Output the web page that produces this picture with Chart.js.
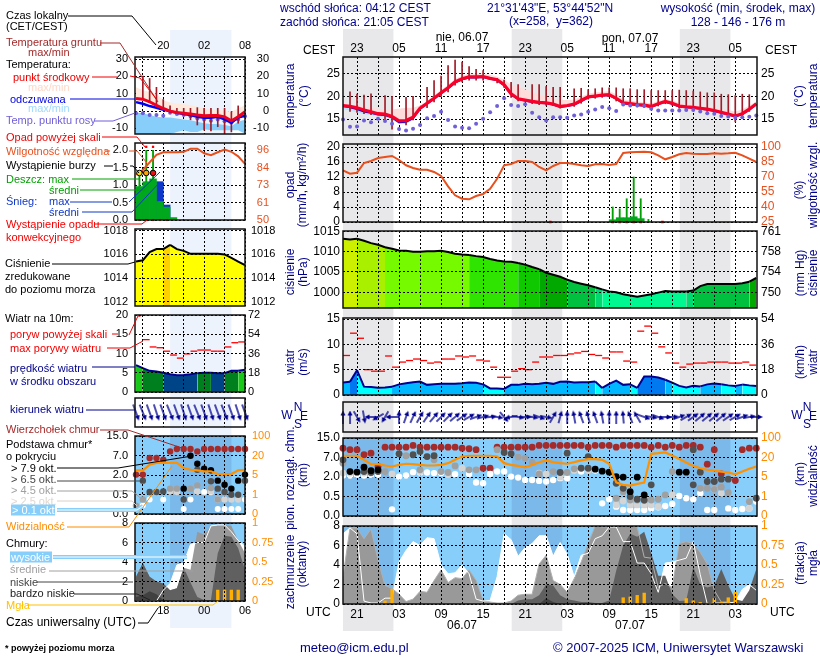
<!DOCTYPE html>
<html>
<head>
<meta charset="utf-8">
<title>meteogram</title>
<script src="https://cdn.jsdelivr.net/npm/chart.js@4"></script>
<style>
  html, body { margin: 0; padding: 0; background: #fff; }
  #page { position: relative; width: 820px; height: 660px; overflow: hidden; font-family: "Liberation Sans", Arial, sans-serif; }
  #page canvas { position: absolute; }
  .t { position: absolute; white-space: pre; line-height: 14px; font-size: 11px; transform: translateY(-50%); }
  .r { position: absolute; white-space: pre; line-height: 14px; font-size: 12px; color: #00008b; transform: translate(-50%,-50%) rotate(-90deg); }
  #leaders { position: absolute; left: 0; top: 0; }
</style>
</head>
<body>
<div id="page"></div>
<script>
// ---- main time axis: hour 0 = 19 UTC 05.07, one value per hour ----
const mainHours = [0,1,2,3,4,5,6,7,8,9,10,11,12,13,14,15,16,17,18,19,20,21,22,23,24,25,26,27,28,29,30,31,32,33,34,35,36,37,38,39,40,41,42,43,44,45,46,47,48,49,50,51,52,53,54,55,56,57,58,59];
const mainGridHours = [2,5,8,11,14,17,20,23,26,29,32,35,38,41,44,47,50,53,56];
const mainLabelHours = [2,8,14,20,26,32,38,44,50,56];
const cestLabels = ['23','05','11','17','23','05','11','17','23','05'];
const utcLabels = ['21','03','09','15','21','03','09','15','21','03'];
const nightsMain = [[0,7.2],[24.08,31.3],[48.08,55.3]];

const temp = [18,17.8,17.5,17,16.6,16.2,16.1,15.6,14.6,14.7,15.4,17.4,18.5,19.6,20.8,21.9,23.2,23.9,24.3,24.3,24.4,24,23.7,22.6,20.6,19.5,19.2,18.9,18.7,18.6,18.3,17.8,18,18.3,19.1,19.9,20.1,20.3,20.4,19.6,18.6,18.4,18.2,18.1,17.8,18.4,18.9,18.5,17.9,17.7,17.6,17.4,17.2,16.9,16.5,16.1,15.7,16.2,17.2,18.4];
const tempHigh = [18.3,18.2,18,17.8,17.6,17.3,17.2,17.2,17.3,17.5,17.5,18,19,20.2,21.4,22.6,23.9,24.5,25,25,25,24.8,24.4,23.7,22.6,22.2,21.6,21,20.5,20,19.6,19.3,19.2,19.3,20,20.6,20.9,21,21.2,20.5,19.4,19.1,18.9,18.7,18.5,19,19.4,19.1,18.6,18.3,18.2,18,17.9,17.6,17.3,17,16.6,17.2,18,18.9];
const tempLow = [17.7,17.5,17.2,16.7,16.3,15.9,15.8,15.2,14.3,14.3,15,17,18.1,19.2,20.4,21.5,22.8,23.5,23.9,24,24,23.7,23.3,22.2,20.2,19.2,18.9,18.6,18.4,18.3,18,17.5,17.7,18,18.7,19.5,19.7,19.9,20,19.2,18.3,18.1,17.9,17.8,17.5,18,18.5,18.1,17.6,17.4,17.3,17.1,16.9,16.6,16.2,15.8,15.4,15.9,16.9,18];
const feels = [17.9,17.6,17.2,16.7,16.4,16,15.9,15.4,14.3,14.4,15.2,17.3,18.4,19.5,20.7,21.8,23.1,23.8,24.2,24.2,24.3,23.9,23.6,22.5,20.5,19.4,19.1,18.8,18.6,18.5,18.2,17.7,17.9,18.2,19,19.8,20,20.2,20.3,19.5,18.5,18.3,18.1,18,17.7,18.3,18.8,18.4,17.8,17.6,17.5,17.3,17.1,16.8,16.4,16,15.6,16.1,17.1,18.3];
const feelsLow = [17.2,16.9,16.5,16.1,15.9,15.5,15.4,14.9,13.9,14,14.8,17,18.2,19.4,20.6,21.7,23,23.7,24.1,24.1,24.2,23.8,23.5,22.4,20.4,19.3,19,18.7,18.5,18.4,18.1,17.6,17.8,18.1,18.9,19.7,19.9,20.1,20.2,19.4,18.4,18.2,18,17.7,17.4,18.1,18.6,18.3,17.7,17.5,17.4,17.2,17,16.7,16.3,15.9,15.4,16,17,18.2];
const dewPoint = [14.9,13.3,13.4,14.7,14.3,15.1,14.6,14,12.8,12.5,12.9,13.7,15.2,15.7,16.6,14.8,13.4,13.1,13,14,15.1,16.5,17.9,19.6,18.1,17.9,18.3,16.4,15.4,14.7,15.4,15.4,15.3,15.8,16,16.6,17.1,17.7,17.4,16.8,18.2,18,18,17.9,17.3,16.9,16.9,16.9,16.9,17,17,16.7,16.3,16.2,15.7,15.6,15.3,15.4,15.5,15.8];
const groundHours = [1,2,3,4,6,7,9,10,12,13,14,15,16,17,18,19,20,22,23,24,25,27,28,29,30,31,33,34,35,36,37,38,39,40,41,42,43,44,45,46,47,48,49,50,51,52,53,54,55,56,57,58];
const groundMax = [21,20.5,20.3,20.6,20.2,20,19.8,20,22,23.5,24.5,26.8,28,27.6,26.6,26,25.7,24,23.6,23.1,22.6,22.6,22.6,22.2,22,22,21.7,21.8,21.5,21.7,21.9,21.9,21.9,21.7,21.7,21.5,21.5,21.3,21.3,21.3,21.3,21.4,21.3,21.2,21,20.8,20.8,20.5,20.4,20.2,20.5,20.4];
const groundMin = [16.7,16.5,16.2,16,14.8,12.8,13.7,14.8,17.5,18.8,20,21,22.5,23.2,23.6,23.6,23.6,23,22,19.8,19,18.4,18.2,18,18,17.4,17.8,18.5,19.4,19.6,19.8,19.9,19,18.1,17.9,17.7,17.6,17.3,17.9,18.4,18,17.4,17.2,17.1,16.9,16.7,16.4,16,15.4,14.4,15.7,16.7];

const humidity = [76.7,73.3,74.3,84,86,89,90,91,87,81.7,79,77.3,77.3,75,71,60.7,51.7,48.3,47.7,51,53,58.3,68.3,81.7,83,86,86,85,80,76.7,81,84,84,83,81.7,81,82.7,83,82,83,94,94.7,95,95.3,94.7,91.7,87.7,90,92.7,94,93.3,93,93,93.7,93.3,93.7,94.3,91.7,88.3,85];
const rainHours = [38.5,39.5,40.5,41.5,42.5];
const rainMean = [0.6,1.15,1.15,1.4,0.9];
const rainMaxHours = [38.5,39.5,40.5,41.5,42.5,43.6];
const rainMax = [4,3.5,6.2,12,6.2,0.7];
const convectiveHours = [29.6,38.5,39.5,40.5,41.5,42.5,45.6];

const pressure = [1013.2,1013,1013.2,1012.7,1012.1,1011.7,1011.1,1010.7,1010.3,1010.2,1010,1010,1010.1,1010.1,1010.2,1009.9,1009.5,1009.3,1009.2,1008.9,1008.7,1008.2,1007.8,1007.6,1007.5,1007.2,1006.8,1006.2,1005.7,1004.8,1004.3,1003.8,1003.1,1002.5,1002.1,1001.7,1001.2,1000.7,1000.2,1000,999.5,999.2,998.9,999.2,999.5,999.9,1000.3,1000.2,1000.2,1000.2,1000.4,1001.5,1002,1002,1002,1002,1002,1002.2,1002.6,1003.5];

const wind = [2.45,2.6,4.9,1.65,1.6,1.45,1.5,1.65,2.1,2.3,2.5,2.65,2,2.1,2.2,2.2,2.2,2.3,2.45,2.4,2.1,1.3,1.3,1.2,2,2,2.2,2.1,2.2,2.4,2.2,2.6,2.65,2.45,2.5,2.5,2.65,1.4,2.2,2.85,2,2.1,1.4,3.65,3.65,3.45,3,2.45,1.8,1.5,1.8,1.7,2.1,2.25,2.1,1.9,1.8,2.05,1.9,1.8];
const gustHours = [0.5,1.5,2.5,3.5,4.5,5.5,6.5,7.5,8.5,9.5,10.5,11.5,12.5,13.5,14.5,15.5,16.5,17.5,18.5,19.5,20.5,21.5,22.5,23.5,24.5,25.5,26.5,27.5,28.5,29.5,30.5,31.5,32.5,33.5,34.5,35.5,36.5,37.5,38.5,39.5,40.5,41.5,42.5,43.5,44.5,45.5,46.5,47.5,48.5,49.5,50.5,51.5,52.5,53.5,54.5,55.5,56.5,57.5,58.5];
const gusts = [7.8,12.2,11.2,5,4.7,4.7,7.7,5.5,6.5,6.8,7.1,6.8,6.3,6.5,7.1,7.1,7.7,7.5,7.7,6.9,6.7,5.5,3.5,3.5,4.7,5.2,5,6.5,7.5,7.5,7.8,7.8,8.1,8.3,8.6,8,7.8,7.3,8.5,8.5,6.7,6.5,12.6,13.6,12.2,9.5,8.3,6.3,5.5,6.1,6.3,6.3,6.5,6.5,6.5,6.3,6.3,6.5,5.9];
const windDir = [0,0,150,170,270,240,210,270,0,20,25,30,35,40,45,45,50,55,60,70,75,85,100,140,260,100,90,100,110,100,30,15,0,350,340,345,340,350,0,0,355,340,330,110,100,110,90,85,70,60,55,50,50,50,50,55,60,70,80,90];

// cloud dots: [hour, axis level], axis levels 0..4 stand for 0, 0.5, 2, 7, 15 km
const baseTop = [[0,3.48],[1,3.4],[2,3.4],[3,3.14],[4,3.22],[5,2.54],[6,3.53],[7,3.53],[8,3.53],[9,3.53],[10,3.62],[11,3.53],[12,3.53],[13,3.53],[14,3.53],[15,3.53],[16,3.53],[17,3.48],[18,3.45],[19,3.4],[20,2.45],[21,2.45],[22,3.53],[23,3.53],[24,3.53],[25,3.53],[26,3.53],[27,3.53],[28,3.62],[29,3.62],[30,3.62],[31,3.62],[32,3.62],[33,3.62],[34,3.62],[35,3.53],[36,3.62],[37,3.62],[38,3.62],[39,3.53],[40,3.62],[41,3.62],[42,3.62],[43,3.62],[44,3.53],[45,3.62],[46,3.53],[47,3.62],[48,3.53],[49,3.62],[50,3.62],[51,3.53],[52,2.66],[53,3.4],[54,2.16],[56,1.82],[57,3.4],[58,3.48],[59,3.48]];
const baseBlack = [[1,2.28],[2,2.25],[3,2.5],[4,2.32],[5,2.37],[36,2.4],[37,2.3],[38,2.25],[39,2.02],[40,1.99],[41,1.25],[42,1.99],[43,1.08],[48,2.25],[49,2.25]];
const baseDark = [[0,2.88],[3,2.28],[4,2.23],[5,2.28],[8,3.19],[10,3.14],[11,3.31],[12,3.05],[13,3.09],[23,3.26],[24,3.19],[31,2.23],[32,3.22],[34,2.45],[35,3.05],[35,2.45],[39,1.68],[40,1.42],[41,1],[42,0.86],[43,0.82],[44,1.6],[50,3.4],[50,1.6],[51,2.25],[52,1.77],[53,1.77],[54,1.89],[55,1.89],[59,0.91]];
const baseGrey = [[0,2.71],[6,2.28],[8,3.19],[9,3.09],[11,2.37],[12,3.05],[13,2.88],[14,2.28],[15,2.23],[16,2.57],[18,2.37],[19,2.37],[22,3.4],[25,3.02],[26,2.97],[27,2.76],[28,2.16],[30,2.28],[32,2.23],[33,2.42],[39,0.91],[40,1.25],[41,0.82],[42,0.82],[43,0.79],[44,0.82],[45,0.86],[46,1.08],[47,2.28],[51,1.42],[52,1.42],[53,1.37],[54,1.48],[55,1.2],[58,0.74]];
const baseLight = [[0,2.2],[1,2.2],[3,2.2],[4,2.2],[7,2.16],[11,2.28],[15,2.11],[17,2.45],[28,2.2],[29,2.16],[31,1.99],[33,2.33],[35,2.33],[39,0.57],[40,0.77],[41,0.57],[42,0.57],[43,0.57],[44,0.57],[45,0.48],[47,1.08],[53,1.37],[54,1.17],[58,0.39]];
const baseWhite = [[0,2.08],[1,2.08],[2,2.11],[3,2.08],[4,2.11],[5,2.11],[7,0.34],[8,2.02],[9,2.08],[10,2.25],[11,2.23],[12,2.23],[13,2.2],[14,2.2],[15,2.2],[16,2.14],[18,2.16],[19,1.72],[20,1.68],[21,2.16],[22,2.28],[23,2.28],[24,2.02],[25,1.97],[26,1.85],[27,1.85],[28,1.8],[29,1.77],[30,1.85],[31,1.94],[32,1.94],[34,2.28],[36,2.33],[37,0.65],[38,0.86],[39,0.48],[40,0.31],[41,0.31],[42,0.31],[43,0.31],[44,0.39],[45,0.45],[46,0.51],[47,0.62],[48,1.03],[49,0.91],[50,0.86],[51,1.17],[52,0.31],[53,0.31],[55,0.39],[56,0.31],[57,0.36],[58,0.39],[59,0.74]];
const visibility = [3.09,3.09,3.09,2.88,2.66,2.66,2.59,2.54,2.62,2.68,2.66,2.62,2.59,2.59,2.62,2.71,2.88,3.05,3.09,3.09,3.09,3.09,3.05,2.71,2.62,2.57,2.49,2.62,2.76,2.85,2.76,2.71,2.68,2.76,2.85,2.92,2.92,2.88,2.68,1.73,1.6,1.56,1.65,1.72,3.19,3.22,3.26,3.1,2.92,2.74,2.57,2.45,2.37,2.32,2.28,2.23,2.14,2.28,2.42,2.54];

const cloudHigh = [7.2,7.8,7.2,0.3,0.1,0.1,0.6,0.6,4.3,5.5,6.4,6,6.8,6.7,4,3.1,3.2,4,3.1,0.5,0.3,0.35,2.8,7.2,6.6,4.9,5.8,6.2,7,7,4.9,6.3,5.1,2.8,5,5.2,6.7,7,7.9,7.9,6.4,6.4,4.2,4.2,3.1,1.2,4.2,4.3,4.5,4.7,6.4,3,0,0.1,0.1,0.1,0.2,1.5,2,1.4];
const cloudMid = [2.8,7.8,7.8,6.7,7.7,4.5,1.9,1.6,1,0.25,0.5,1.3,1.2,2.4,3.5,2.2,2.7,2.6,3.5,2.4,0.4,0.2,0.1,0.1,0.3,0.9,1,1,4.1,5,2.4,2,1.2,2.6,4.3,6.2,8,7.9,7.9,8,8,8,7.9,4.8,4.7,1.7,2.1,1.7,6.2,6.4,6.2,5.3,4.1,1.4,0.2,0.2,0.1,0,0,0];
const cloudLow = [0,0,0,0,0,0,0,0,0,0,0,0,0,0,0,0,0,0,0,0,0,0,0,0,0,0.35,0.5,0.5,0.9,2,1.9,0.9,0.5,0.35,0.2,0.2,0.1,0.1,0.35,3.4,6,7.2,6.9,7.4,5.2,2.9,2.9,1,0.3,0.35,3.8,2,1.7,1.9,3.6,1.9,0.5,0.3,1.4,3.6];
const cloudVeryLow = [0,0,0,0,0,0,0,0,0,0,0,0,0,0,0,0,0,0,0,0,0,0,0,0,0,0,0,0,0,0.6,0.2,0,0,0,0,0,0,0,0,0,0,0,0,0,0,0,0,0,0,0,0,0,0,0,0,0.1,0.1,0.1,0];
const fogHours = [6,7,40,41,42,43,49,50,51,52,53,54,55,56];
const fog = [0.04,0.19,0.08,0.09,0.11,0.14,0.07,0.04,0.02,0.01,0.07,0.02,0.08,0.15];

// ---- left (current) panels: hours UTC, 24 = midnight ----
const leftHours = [14,15,16,17,18,19,20,21,22,23,24,25,26,27,28,29,30];
const leftGridHours = [15,18,21,24,27,30];
const leftLabelHours = [18,24,30];
const leftLocal = ['20','02','08'];
const leftUtc = ['18','00','06'];
const nightLeft = [[19,28]];

const lTemp = [7.3,6.9,5.4,3.3,1.5,0,-0.8,-1.2,-1.7,-2.3,-2.7,-2.5,-2.5,-3.3,-5.6,-3.3,-0.4];
const lTempHigh = [13.7,12,11,10,6.3,5,4.4,4,3.5,2.5,1.5,1,0.5,0.5,-0.4,1.5,3.5];
const lFeels = [5.2,4.2,2.9,1.9,0.8,0,-1,-1.7,-2.3,-3.3,-3.8,-3.8,-3.3,-4.8,-6.7,-3.7,-2.7];
const lFeelsHigh = [-0.8,-1.3,-2.3,-3.3,-3.7,-3.7,-4.2,-4.8,-5.2,-6.2,-7,-7.5,-7.5,-8,-8.7,-6,-5];
const lFeelsLow = [-13.2,-13.2,-13.2,-13.2,-13.2,-13.2,-12,-11,-12,-12,-10.5,-11,-11,-11,-11,-11,-13];
const lDew = [-1.3,-1.3,-2.3,-2.3,-2.7,-1,-1.7,-2.3,-2.9,-4.2,-4.8,-5.6,-4.8,-5.8,-6.7,-4.8,-3];
const lGroundHours = [15,16,17,18,19,20,21,22,23,24,25,26,27,28,29];
const lGroundMax = [20.2,18.8,13.7,6.7,3,1.6,1.6,1.6,2,1.6,1.6,1.6,1.6,-0.4,3];
const lGroundMin = [7,5,3,1,-1,-1,-2,-5,-8,-11,-11.4,-9,-13,-12,-7];

const lHumidity = [79.9,83,88,93,94.7,94.7,94.7,95,97,97,94,92.7,94.7,96.5,95,92,87];
const lRainHours = [14.5,15.5,16.5,17.5,18.5,19.5];
const lRain = [0.96,1.1,1.18,0.53,0.37,0.07];
const lSnow = [0,0,0,1.1,0.43,0];
const lRainMaxHours = [14.5,15.5,16.5];
const lRainMax = [1.35,2,2];
const lStorm = [1.35,1.35,1.35];
const lOverScale = [2.1,2.1];
const lOverScaleHours = [15.5,16.5];
const lConvective = [14.5,15.5,16.5,17.5,18.5];

const lPressure = [1015.4,1015.5,1016.2,1016.45,1016.45,1016.8,1016.45,1016.3,1016.05,1016.05,1016.05,1016.05,1016.05,1016,1015.7,1015.4,1015.1];
const lWind = [7,6.2,5.5,5.3,5,4.6,4.35,4.4,4.6,4.9,5,5,4.9,4.9,5.5,5.5,5.8];
const lGustHours = [15.5,16.5,17.5,18.5,19.5,20.5,21.5,22.5,23.5,24.5,25.5,26.5,27.5,28.5,29.5];
const lGusts = [13.6,11.7,11.5,10.6,9.6,8.8,9.9,10.6,10.9,10.9,10.6,10.6,11.7,12.8,13];
const lGustOver = [[14.5,19.8]];
const lWindDir = [160,158,160,162,160,158,160,162,160,158,160,162,160,158,160,162,160];

const lBaseTop = [[14,2.02],[15,2.02],[16,2.87],[17,2.87],[18,2.79],[19,3.21],[20,3.33],[21,3.33],[22,3.33],[23,3.21],[24,3.33],[25,3.33],[26,3.33],[27,3.33],[28,3.33],[29,3.33],[30,3.33]];
const lBaseBlack = [[21,1.3],[22,2.99],[23,2.58],[24,2.32],[25,2.24],[26,1.71],[27,1.5],[28,1.3],[29,1.71],[30,2.02]];
const lBaseDark = [[15,1.71],[16,1.13],[17,1.13],[18,1.16],[21,0.74],[23,2.27],[25,1.68],[26,1.3],[27,1.13],[28,0.99],[29,0.99],[30,1.71]];
const lBaseGrey = [[14,0.43],[15,0.74],[19,1.3],[20,1.3],[22,1.3],[23,1.47],[25,1.33],[26,0.74]];
const lBaseLight = [[14,0.36],[19,1.16],[20,1.13],[23,1.16],[25,1.16],[26,0.74],[27,0.74],[28,0.74],[29,0.74]];
const lBaseWhite = [[15,0.43],[16,0.74],[18,0.74],[21,0.26],[22,0.74],[23,1.16],[24,1.13],[25,1.11],[26,0.26],[27,0.26],[28,0.26],[29,0.26],[30,0.74]];
const lVisibility = [2.24,2.24,2.53,2.62,2.62,2.62,2.62,2.36,2.27,2.24,2.19,2.19,2.05,2.05,2.05,2.24,2.27];

const lCloudHigh = [0,0,0,0,1.1,1.8,3.7,3.9,5.8,6,6,7.7,7.8,7.8,7.1,6.2,5.6];
const lCloudMid = [2.5,3.9,2.5,2,1.8,1.1,1.3,3.4,3.2,7.1,6.8,7.7,7.8,7.8,7.7,6.2,4.9];
const lCloudLow = [2.5,3.9,2.5,2,1.8,1.1,1.3,3.4,1.9,0.4,0.1,0.1,4.9,6.7,6.6,5.4,3.2];
const lCloudVeryLow = [0.4,0.6,1,0.7,0.1,0,0,0,0,0,0,0,0,0,0,0,0];
const lFogHours = [26,27,28,29];
const lFog = [0.14,0.14,0.14,0.14];

// ---- axes ----
const tempTicks = [15,20,25];
const rainTicks = [0,4,8,12,16,20];
const humidityTicks = [25,40,55,70,85,100];
const pressureTicks = [1000,1005,1010,1015];
const mmHgLabels = ['750','754','758','761'];
const windTicks = [0,5,10,15];
const kmhLabels = ['0','18','36','54'];
const levelTicks = [0,1,2,3,4];
const baseLabels = ['0.0','0.5','2.0','7.0','15.0'];
const visLabels = ['0','1','5','20','100'];
const cloudTicks = [0,2,4,6,8];
const fogTicks = [0,0.25,0.5,0.75,1];
const fogLabels = ['0','0.25','0.5','0.75','1'];
const lTempTicks = [-10,0,10,20,30];
const lRainTicks = [0,0.5,1,1.5,2];
const lRainLabels = ['0.0','0.5','1.0','1.5','2.0'];
const lHumidityTicks = [50,61.5,73,84.5,96];
const lHumidityLabels = ['50','61','73','84','96'];
const lPressureTicks = [1012,1014,1016,1018];
const lWindTicks = [0,5,10,15,20];
const lKmhLabels = ['0','18','36','54','72'];

const FONT = '"Liberation Sans", Arial, sans-serif';
const SKY = '#87cefa', SKY_NIGHT = '#7bb9ea';
const page = document.getElementById('page');

const xy = (xs, ys) => xs.map((x, i) => ({x, y: ys[i]}));
const pairs = list => list.map(p => ({x: p[0], y: p[1]}));
const range = (xs, lo, hi) => xs.map((x, i) => ({x, y: [lo[i], hi[i]]}));

function line(data, color, width, extra) {
  return Object.assign({type: 'line', data, borderColor: color, borderWidth: width, pointRadius: 0, tension: 0, fill: false}, extra);
}
function band(data, color, fillTo) {
  return {type: 'line', data, borderWidth: 0, pointRadius: 0, tension: 0, backgroundColor: color, fill: fillTo};
}
function dots(data, color, radius, extra) {
  return Object.assign({type: 'line', data, showLine: false, pointRadius: radius, pointBackgroundColor: color, pointBorderWidth: 0, clip: false}, extra);
}
function bars(data, color, thick, extra) {
  return Object.assign({type: 'bar', data, backgroundColor: color, barThickness: thick, grouped: false}, extra);
}

// colour steps of the fill below the pressure and wind lines, by value
const mainPressureSteps = [[1012.8,'#ccf000'],[1011,'#a8f000'],[1009,'#76fa00'],[1007.2,'#2fe400'],[1005,'#10c800'],[1003,'#00a800'],[1000.9,'#00c040'],[1000.35,'#00d870'],[0,'#00f890']];
const leftPressureSteps = [[1016.7,'#ffd000'],[0,'#ffff00']];
const mainWindSteps = [[3,'#0078f0'],[2,'#00b8ff'],[0,'#00ffff']];
const leftWindSteps = [[5.55,'#18c818'],[4.95,'#007f1e'],[0,'#004488']];
const stepColor = (steps, v) => steps.find(s => v >= s[0])[1];
function steppedFill(data, lineColor, width, steps) {
  return line(data, lineColor, width, {
    fill: 'origin', backgroundColor: steps[0][1],
    segment: {backgroundColor: c => stepColor(steps, c.p1.parsed.y)}
  });
}

const frame = {
  id: 'frame',
  afterDraw(chart) {
    const a = chart.chartArea, ctx = chart.ctx;
    ctx.save();
    ctx.strokeStyle = '#111';
    ctx.lineWidth = 1.5;
    ctx.strokeRect(a.left, a.top, a.right - a.left, a.bottom - a.top);
    ctx.restore();
  }
};
const sky = {
  id: 'sky',
  beforeDraw(chart, args, opts) {
    if (!opts.nights) return;
    const a = chart.chartArea, ctx = chart.ctx, x = chart.scales.x;
    ctx.save();
    ctx.fillStyle = SKY;
    ctx.fillRect(a.left, a.top, a.right - a.left, a.bottom - a.top);
    ctx.fillStyle = SKY_NIGHT;
    opts.nights.forEach(n => {
      const x0 = Math.max(a.left, x.getPixelForValue(n[0]));
      const x1 = Math.min(a.right, x.getPixelForValue(n[1]));
      ctx.fillRect(x0, a.top, x1 - x0, a.bottom - a.top);
    });
    ctx.restore();
  }
};

function makeCanvas(left, top, width, height) {
  const c = document.createElement('canvas');
  c.width = width; c.height = height;
  c.style.left = left + 'px'; c.style.top = top + 'px';
  c.style.width = width + 'px'; c.style.height = height + 'px';
  page.appendChild(c);
  return c;
}

function nightBackdrop(box, xMin, xMax, nights, color) {
  const [L, T, R, B] = box;
  const c = makeCanvas(0, 0, 820, 660);
  new Chart(c, {
    type: 'line',
    data: {datasets: []},
    options: {
      responsive: false, animation: false,
      layout: {padding: {left: L, right: 820 - R, top: T, bottom: 660 - B}},
      scales: {x: {type: 'linear', min: xMin, max: xMax, display: false}, y: {display: false}},
      plugins: {legend: {display: false}, tooltip: {enabled: false}}
    },
    plugins: [{
      id: 'nights',
      beforeDraw(chart) {
        const a = chart.chartArea, x = chart.scales.x;
        chart.ctx.fillStyle = color;
        nights.forEach(n => {
          const x0 = x.getPixelForValue(n[0]);
          chart.ctx.fillRect(x0, a.top, x.getPixelForValue(n[1]) - x0, a.bottom - a.top);
        });
      }
    }]
  });
}

function yAxis(o, position, width) {
  return {
    position, min: o.min, max: o.max,
    afterFit(s) { s.width = width; s.paddingTop = 0; s.paddingBottom = 0; },
    afterBuildTicks(s) { s.ticks = o.ticks.map(value => ({value})); },
    border: {display: false, dash: [2, 2]},
    grid: {display: !!o.grid, color: '#000', lineWidth: 1, drawTicks: false, z: o.gridTop ? 1 : 0},
    ticks: {
      color: o.color || '#000', autoSkip: false,
      // right aligned labels: mirrored, measured back from the far edge of the axis box
      mirror: !!o.far, padding: o.far ? 24 : o.pad,
      font: {family: FONT, size: o.size},
      callback: (v, i) => o.labels ? o.labels[i] : String(v)
    }
  };
}

function panel(cfg) {
  const [L, T, R, B] = cfg.box;
  const side = 45, pad = 9, xh = cfg.xLabels ? 22 : 0;
  const top = cfg.xLabelTop ? xh : pad, bottom = cfg.xLabels && !cfg.xLabelTop ? xh : pad;
  const c = makeCanvas(L - side, T - top, R - L + 2 * side, B - T + top + bottom);
  cfg.datasets.forEach((d, i) => { d.order = -i; });
  const ax = cfg.axis;
  new Chart(c, {
    type: 'line',
    data: {datasets: cfg.datasets},
    options: {
      responsive: false, animation: false, events: [],
      layout: {padding: {top: cfg.xLabelTop ? 0 : pad, bottom: cfg.xLabels && !cfg.xLabelTop ? 0 : pad, left: 0, right: 0}},
      scales: {
        x: {
          type: 'linear', min: ax.min, max: ax.max, offset: false,
          position: cfg.xLabelTop ? 'top' : 'bottom',
          afterFit(s) { s.height = xh; s.paddingLeft = 0; s.paddingRight = 0; },
          afterBuildTicks(s) { s.ticks = ax.grid.map(value => ({value})); },
          border: {display: false, dash: [2, 2]},
          grid: {color: '#000', lineWidth: 1, drawTicks: false, offset: false, z: cfg.gridTop ? 1 : 0},
          ticks: {
            display: !!cfg.xLabels, autoSkip: false, maxRotation: 0, padding: cfg.xPad || 2, color: '#000',
            font: {family: FONT, size: ax.size},
            callback: v => {
              const i = ax.labelHours.indexOf(v);
              return i < 0 || !cfg.xLabels ? '' : cfg.xLabels[i];
            }
          }
        },
        y: yAxis(Object.assign({grid: !cfg.noGrid, gridTop: cfg.gridTop, pad: ax.leftPad, size: ax.size}, cfg.y), 'left', side),
        y2: yAxis(Object.assign({pad: ax.rightPad, size: ax.size}, cfg.y2), 'right', side)
      },
      plugins: {legend: {display: false}, tooltip: {enabled: false}, sky: {nights: cfg.nights}}
    },
    plugins: [sky, frame]
  });
}

function arrowStyle(len) {
  const s = document.createElement('canvas');
  s.width = 6; s.height = len;
  const g = s.getContext('2d');
  g.strokeStyle = g.fillStyle = '#000090';
  g.lineWidth = 1.4;
  g.beginPath(); g.moveTo(3, len); g.lineTo(3, 3); g.stroke();
  g.beginPath(); g.moveTo(3, 0); g.lineTo(5.5, 5); g.lineTo(0.5, 5); g.closePath(); g.fill();
  return s;
}

const mainAxis = {min: 0, max: 59.1, grid: mainGridHours, labelHours: mainLabelHours, size: 12, leftPad: 3, rightPad: 4};
const leftAxis = {min: 13.85, max: 30, grid: leftGridHours, labelHours: leftLabelHours, size: 11, leftPad: 7, rightPad: 7};

nightBackdrop([343, 29, 757, 631], mainAxis.min, mainAxis.max, nightsMain, '#e8e8ea');
nightBackdrop([135, 30, 245, 628], leftAxis.min, leftAxis.max, nightLeft, '#edf3fd');

// ---- main panels ----
panel({
  box: [343, 57, 757, 135], axis: mainAxis, xLabels: cestLabels, xLabelTop: true, xPad: 1,
  y: {min: 11.5, max: 28.7, ticks: tempTicks}, y2: {min: 11.5, max: 28.7, ticks: tempTicks},
  datasets: [
    line(xy(mainHours, tempLow), 'transparent', 0),
    band(xy(mainHours, tempHigh), '#ffdcdc', '-1'),
    line(xy(mainHours, feelsLow), 'transparent', 0),
    band(xy(mainHours, feels), '#b8e0fa', '-1'),
    line(xy(mainHours, feels), '#0000e0', 2),
    bars(range(groundHours, groundMin, groundMax), '#a01c28', 1),
    line(xy(mainHours, temp), '#f8002a', 3.2),
    dots(xy(mainHours, dewPoint), '#7060d8', 2)
  ]
});
panel({
  box: [343, 144, 757, 222], axis: mainAxis,
  y: {min: 0, max: 20.8, ticks: rainTicks},
  y2: {min: 25, max: 103, ticks: humidityTicks, color: '#e8501e'},
  datasets: [
    bars(xy(rainMaxHours, rainMax), '#00a000', 1.2),
    bars(xy(rainHours, rainMean), '#00a81e', 7),
    line(xy(mainHours, humidity), '#e8501e', 2, {yAxisID: 'y2'}),
    dots(convectiveHours.map(x => ({x, y: 0})), '#e01010', 1.8, {pointStyle: 'rect'})
  ]
});
panel({
  box: [343, 231, 757, 308], axis: mainAxis, gridTop: true,
  y: {min: 996.1, max: 1015.1, ticks: pressureTicks},
  y2: {min: 996.1, max: 1015.1, ticks: pressureTicks, labels: mmHgLabels},
  datasets: [steppedFill(xy(mainHours, pressure), '#000', 2, mainPressureSteps)]
});
panel({
  box: [343, 318, 757, 395], axis: mainAxis, gridTop: true,
  y: {min: 0, max: 15.2, ticks: windTicks},
  y2: {min: 0, max: 15.2, ticks: windTicks, labels: kmhLabels},
  datasets: [
    steppedFill(xy(mainHours, wind), '#000090', 2, mainWindSteps),
    dots(xy(gustHours, gusts), 'red', 3.5, {pointStyle: 'line', pointBorderColor: 'red', pointBorderWidth: 1.3})
  ]
});
panel({
  box: [343, 402, 757, 432], axis: mainAxis,
  y: {min: -1, max: 1, ticks: []}, y2: {min: -1, max: 1, ticks: []},
  datasets: [dots(mainHours.map(x => ({x, y: 0})), '#000090', 6, {pointStyle: arrowStyle(13), pointRotation: windDir})]
});
panel({
  box: [343, 438, 757, 516], axis: mainAxis, nights: nightsMain,
  y: {min: 0, max: 4, ticks: levelTicks, labels: baseLabels},
  y2: {min: 0, max: 4, ticks: levelTicks, labels: visLabels, color: '#ff8c00'},
  datasets: [
    dots(pairs(baseTop), '#a52a2a', 3.4),
    dots(pairs(baseWhite), '#fff', 3.2),
    dots(pairs(baseLight), '#d4d4d4', 3.4),
    dots(pairs(baseGrey), '#a0a0a0', 3.4),
    dots(pairs(baseDark), '#505050', 3.4),
    dots(pairs(baseBlack), '#000', 3.4),
    line(xy(mainHours, visibility), '#ff9000', 2.2)
  ]
});
panel({
  box: [343, 526, 757, 604], axis: mainAxis, nights: nightsMain, gridTop: true, xLabels: utcLabels, xPad: 3,
  y: {min: 0, max: 8, ticks: cloudTicks},
  y2: {min: 0, max: 1, ticks: fogTicks, color: '#ff8c00', labels: fogLabels},
  datasets: [
    line(xy(mainHours, cloudHigh), 'transparent', 0, {fill: 'origin', backgroundColor: '#fff'}),
    line(xy(mainHours, cloudMid), 'transparent', 0, {fill: 'origin', backgroundColor: '#999'}),
    line(xy(mainHours, cloudLow), 'transparent', 0, {fill: 'origin', backgroundColor: '#606060'}),
    line(xy(mainHours, cloudVeryLow), 'transparent', 0, {fill: 'origin', backgroundColor: '#404040'}),
    line(xy(mainHours, cloudMid), '#b0b0b0', 1),
    line(xy(mainHours, cloudHigh), '#fff', 1),
    bars(xy(fogHours, fog), '#ffb000', 2.7, {yAxisID: 'y2'})
  ]
});

// ---- left panels ----
panel({
  box: [135, 57, 245, 134], axis: leftAxis, xLabels: leftLocal, xLabelTop: true, xPad: 4,
  y: {min: -13.2, max: 31.2, ticks: lTempTicks},
  y2: {min: -13.2, max: 31.2, ticks: lTempTicks, far: true},
  datasets: [
    line(xy(leftHours, lFeelsLow), 'transparent', 0),
    band(xy(leftHours, lFeelsHigh), SKY, '-1'),
    line(xy(leftHours, lTemp), 'transparent', 0),
    band(xy(leftHours, lTempHigh), '#ffe8dc', '-1'),
    dots(xy(leftHours, lDew), '#7060d8', 2),
    bars(range(lGroundHours, lGroundMin, lGroundMax), '#a01c28', 1),
    line(xy(leftHours, lFeels), '#0000f0', 2.5),
    line(xy(leftHours, lTemp), '#f00020', 3)
  ]
});
panel({
  box: [135, 143, 245, 220], axis: leftAxis,
  y: {min: 0, max: 2.21, ticks: lRainTicks, labels: lRainLabels},
  y2: {min: 50, max: 100.8, ticks: lHumidityTicks, labels: lHumidityLabels, color: '#e8501e', far: true},
  datasets: [
    bars(xy(lRainHours, lSnow), '#1038c8', 6.8),
    bars(xy(lRainMaxHours, lRainMax), '#00a000', 1.2),
    bars(xy(lRainHours, lRain), '#00a81e', 6.8),
    line(xy(leftHours, lHumidity), '#e8501e', 2, {yAxisID: 'y2'}),
    dots(lConvective.map(x => ({x, y: 0})), '#e01010', 1.5, {pointStyle: 'rect'}),
    dots(xy(lRainMaxHours, lStorm), ['#ffe000', '#ffa000', '#f01010'], 2.8, {pointBorderWidth: 1, pointBorderColor: '#000'}),
    dots(xy(lOverScaleHours, lOverScale), '#f00000', 1.6, {pointStyle: 'rect'})
  ]
});
panel({
  box: [135, 229, 245, 306], axis: leftAxis, gridTop: true,
  y: {min: 1011.64, max: 1018.15, ticks: lPressureTicks},
  y2: {min: 1011.64, max: 1018.15, ticks: lPressureTicks, pad: 6},
  datasets: [steppedFill(xy(leftHours, lPressure), '#000', 2, leftPressureSteps)]
});
panel({
  box: [135, 315, 245, 392], axis: leftAxis, gridTop: true,
  y: {min: 0, max: 20, ticks: lWindTicks},
  y2: {min: 0, max: 20, ticks: lWindTicks, labels: lKmhLabels, pad: 3},
  datasets: [
    steppedFill(xy(leftHours, lWind), '#000090', 2, leftWindSteps),
    dots(xy(lGustHours, lGusts), 'red', 3.4, {pointStyle: 'line', pointBorderColor: 'red', pointBorderWidth: 1.3}),
    dots(pairs(lGustOver), '#f00000', 1.4, {pointStyle: 'rect'})
  ]
});
panel({
  box: [135, 398, 245, 427], axis: leftAxis,
  y: {min: -1, max: 1, ticks: []}, y2: {min: -1, max: 1, ticks: []},
  datasets: [dots(leftHours.map(x => ({x, y: 0})), '#000090', 8, {pointStyle: arrowStyle(17), pointRotation: lWindDir})]
});
panel({
  box: [135, 436, 245, 514], axis: leftAxis, nights: nightLeft,
  y: {min: 0, max: 4, ticks: levelTicks, labels: baseLabels},
  y2: {min: 0, max: 4, ticks: levelTicks, labels: visLabels, color: '#ff8c00'},
  datasets: [
    dots(pairs(lBaseTop), '#a52a2a', 3.2),
    dots(pairs(lBaseWhite), '#fff', 3),
    dots(pairs(lBaseLight), '#d4d4d4', 3.2),
    dots(pairs(lBaseGrey), '#a0a0a0', 3.2),
    dots(pairs(lBaseDark), '#505050', 3.2),
    dots(pairs(lBaseBlack), '#000', 3.2),
    line(xy(leftHours, lVisibility), '#ff9000', 2.2)
  ]
});
panel({
  box: [135, 523, 245, 601], axis: leftAxis, nights: nightLeft, gridTop: true, xLabels: leftUtc, xPad: 3,
  y: {min: 0, max: 8, ticks: cloudTicks},
  y2: {min: 0, max: 1, ticks: fogTicks, color: '#ff8c00', labels: fogLabels},
  datasets: [
    line(xy(leftHours, lCloudHigh), 'transparent', 0, {fill: 'origin', backgroundColor: '#fff'}),
    line(xy(leftHours, lCloudMid), 'transparent', 0, {fill: 'origin', backgroundColor: '#999'}),
    line(xy(leftHours, lCloudLow), 'transparent', 0, {fill: 'origin', backgroundColor: '#606060'}),
    line(xy(leftHours, lCloudVeryLow), 'transparent', 0, {fill: 'origin', backgroundColor: '#404040'}),
    line(xy(leftHours, lCloudHigh), '#fff', 1),
    bars(xy(lFogHours, lFog), '#ffb000', 2.7, {yAxisID: 'y2'})
  ]
});

// ---- text ----
const BROWN = '#a52a2a', ORANGE = '#e8501e', NAVY = '#00008b', GREEN = '#00a000', BLUE = '#1038c8', AMBER = '#ff8c00';
// [text, x, centre y, colour, anchor, size]
const labels = [
  ['Czas lokalny',6,15,'#000'],['(CET/CEST)',6,26,'#000'],
  ['Temperatura gruntu',6,42,BROWN],['max/min',28,52,BROWN],
  ['Temperatura:',6,64,'#000'],['punkt środkowy',13,77,'#f00000'],['max/min',28,87,'#ffd8c8'],
  ['odczuwana',10,99,'#0000e0'],['max/min',28,108,'#a0d8ff'],['Temp. punktu rosy',6,120,'#7060d8'],
  ['Opad powyżej skali',6,137,'#f00000'],['Wilgotność względna',6,151,ORANGE],['Wystąpienie burzy',6,165,'#000'],
  ['Deszcz: max',6,179,GREEN],['średni',49,190,GREEN],['Śnieg:',6,201,BLUE],['max',49,201,BLUE],['średni',49,212,BLUE],
  ['Wystąpienie opadu',6,224,'#f00000'],['konwekcyjnego',6,237,'#f00000'],
  ['Ciśnienie',5,263,'#000'],['zredukowane',5,276,'#000'],['do poziomu morza',5,289,'#000'],
  ['Wiatr na 10m:',5,318,'#000'],['poryw powyżej skali',10,334,'#f00000'],['max porywy wiatru',10,348,'#f00000'],
  ['prędkość wiatru',10,368,NAVY],['w środku obszaru',10,381,NAVY],['kierunek wiatru',10,409,NAVY],
  ['Wierzchołek chmur',6,429,BROWN],['Podstawa chmur*',6,444,'#000'],['o pokryciu',6,456,'#000'],
  ['> 7.9 okt.',11,468,'#000'],['> 6.5 okt.',11,479,'#444'],['> 4.5 okt.',11,490,'#a0a0a0'],['> 2.5 okt.',11,501,'#e0d8d0'],
  ['Widzialność',6,526,AMBER],['Chmury:',6,543,'#000'],
  ['średnie',10,569,'#a0a0a0'],['niskie',10,582,'#444'],['bardzo niskie',10,593,'#222'],['Mgła',6,605,'#ffc000'],
  ['Czas uniwersalny (UTC)',6,622,'#000',null,12],
  ['CEST',303,50,'#000',null,12],['CEST',765,50,'#000',null,12],
  ['UTC',306,612,'#000',null,12],['UTC',770,612,'#000',null,12],
  ['wschód słońca: 04:12 CEST',280,8,NAVY,null,12],['zachód słońca: 21:05 CEST',280,22,NAVY,null,12],
  ['21°31\'43"E, 53°44\'52"N',550,8,NAVY,'c',12],['(x=258,  y=362)',551,21,NAVY,'c',12],
  ['wysokość (min, środek, max)',738,8,NAVY,'c',12],['128 - 146 - 176 m',738,22,NAVY,'c',12],
  ['nie, 06.07',462,37,'#000','c',12],['pon, 07.07',630,38,'#000','c',12],
  ['06.07',462,625,'#000','c',12],['07.07',630,625,'#000','c',12],
  ['meteo@icm.edu.pl',300,648,NAVY,null,13],['© 2007-2025 ICM, Uniwersytet Warszawski',553,648,NAVY,null,13]
];
// [text, centre x, centre y]
const rotated = [
  ['temperatura',290,96],['(°C)',304,96],['opad',290,185],['(mm/h, kg/m²/h)',302,185],
  ['ciśnienie',290,272],['(hPa)',303,272],['wiatr',290,362],['(m/s)',303,362],
  ['pion. rozciągł. chm.',290,478],['(km)',303,475],['zachmurzenie',290,572],['(oktanty)',302,564],
  ['temperatura',813,96],['(°C)',799,96],['wilgotność wzgl.',813,185],['(%)',799,190],
  ['ciśnienie',813,273],['(mm Hg)',800,273],['wiatr',813,362],['(km/h)',800,362],
  ['widzialność',813,476],['(km)',800,474],['mgła',813,563],['(frakcja)',800,563]
];
// compass letters next to the wind direction panel
const compass = [['W',287,415],['N',298,407],['E',304,416],['S',298,424],['W',797,415],['N',807,407],['E',813,416],['S',807,424]];

// leader lines from the legend to the panels: [colour, points]
const leaders = [
  ['#000',[[68,16],[132,16],[156,45]]],
  [BROWN,[[100,43],[120,43],[158,102]]],
  ['#f00000',[[92,77],[117,77]]],['#f00000',[[130,76],[140,78],[157,100]]],
  ['#0000e0',[[70,99],[135,99]]],
  ['#7060d8',[[94,121],[113,121],[135,113]]],
  ['#f00000',[[102,137],[137,137],[145,147]]],
  [ORANGE,[[105,151],[110,151]]],[ORANGE,[[129,151],[137,151],[147,163]]],
  ['#000',[[104,166],[113,166]]],['#000',[[130,166],[133,166],[139,173]]],
  [GREEN,[[72,179],[139,179]]],[GREEN,[[80,190],[145,190]]],
  [BLUE,[[70,202],[112,202]]],[BLUE,[[129,202],[160,172]]],[BLUE,[[82,212],[132,212],[160,182]]],
  ['#f00000',[[95,224],[142,224],[147,220]]],
  ['#000',[[52,264],[128,264],[135,262]]],
  ['#f00000',[[112,334],[118,334]]],['#f00000',[[129,335],[138,316]]],
  ['#f00000',[[107,348],[130,348],[143,341]]],
  [NAVY,[[92,367],[135,367]]],[NAVY,[[86,410],[135,410]]],
  [BROWN,[[100,430],[128,430],[185,449]]],
  ['#000',[[57,468],[118,468],[192,456]]],
  ['#444',[[57,481],[143,481]]],
  ['#a0a0a0',[[57,491],[132,491],[143,500]]],
  ['#d8d0c8',[[57,501],[132,501],[137,506]]],
  [AMBER,[[67,527],[129,527],[172,466]]],
  ['#a0a0a0',[[49,571],[193,571]]],
  ['#444',[[37,582],[133,582]]],
  ['#222',[[74,594],[137,594],[150,600]]],
  ['#ffc000',[[27,605],[213,605],[218,601]]],
  ['#000',[[138,623],[148,623],[158,608]]]
];
const skyLeaders = [[[57,510],[137,510],[143,506]],[[53,557],[187,557]]];

function addText(cls, text, x, y, color, size) {
  const el = document.createElement('div');
  el.className = cls;
  el.textContent = text;
  el.style.left = x + 'px';
  el.style.top = y + 'px';
  if (color) el.style.color = color;
  if (size) el.style.fontSize = size + 'px';
  page.appendChild(el);
  return el;
}
function addChip(text, x, y, w) {
  const el = addText('t', text, x, y, '#fff');
  el.style.background = SKY;
  el.style.width = w + 'px';
  el.style.lineHeight = '11px';
  el.style.paddingLeft = '1px';
}

const svgNS = 'http://www.w3.org/2000/svg';
const svg = document.createElementNS(svgNS, 'svg');
svg.id = 'leaders';
svg.setAttribute('width', 820);
svg.setAttribute('height', 660);
function polyline(points, color, width) {
  const p = document.createElementNS(svgNS, 'polyline');
  p.setAttribute('points', points.map(q => q.join(',')).join(' '));
  p.setAttribute('fill', 'none');
  p.setAttribute('stroke', color);
  p.setAttribute('stroke-width', width);
  svg.appendChild(p);
}
leaders.forEach(l => polyline(l[1], l[0], 1));
skyLeaders.forEach(l => { polyline(l, SKY, 4); polyline(l, '#fff', 1); });
page.appendChild(svg);

labels.forEach(([text, x, y, color, anchor, size]) => {
  const el = addText('t', text, x, y, color, size);
  if (anchor === 'c') el.style.transform = 'translate(-50%,-50%)';
});
addChip('> 0.1 okt.', 11, 510, 43);
addChip('wysokie', 10, 557, 41);
rotated.forEach(([text, x, y]) => addText('r', text, x, y));
compass.forEach(([text, x, y]) => {
  const el = addText('t', text, x, y, NAVY, 12);
  el.style.transform = 'translate(-50%,-50%)';
});
const note = addText('t', '* powyżej poziomu morza', 5, 648, '#000', 9);
note.style.fontWeight = 'bold';
</script>
</body>
</html>
